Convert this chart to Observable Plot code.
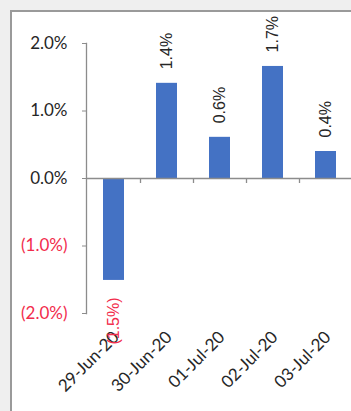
<!DOCTYPE html>
<html>
<head>
<meta charset="utf-8">
<script src="https://cdn.jsdelivr.net/npm/d3@7"></script>
<script src="https://cdn.jsdelivr.net/npm/@observablehq/plot@0.6"></script>
<style>
  html, body { margin: 0; padding: 0; width: 351px; height: 411px; overflow: hidden; background: #efefef; }
  #panel { position: absolute; left: 10px; top: 10px; width: 400px; height: 420px; background: #fff;
           border-left: 2px solid #9a9a9a; border-top: 2px solid #9a9a9a; box-sizing: border-box; }
  #chart { position: absolute; left: 0; top: 0; width: 362px; }
  #chart svg { background: transparent; max-width: none !important; }
</style>
</head>
<body>
<div id="panel"></div>
<div id="chart"></div>
<script>
const categories = ["29-Jun-20", "30-Jun-20", "01-Jul-20", "02-Jul-20", "03-Jul-20"];
const values = [-1.51, 1.41, 0.61, 1.66, 0.40];
const yTicksPos = [0, 1, 2];
const yTicksNeg = [-2, -1];

const data = categories.map((c, i) => ({cat: c, v: values[i]}));
const fmt = v => v < 0 ? `(${Math.abs(v).toFixed(1)}%)` : `${v.toFixed(1)}%`;

const RED = "#f22c4c";
const TXT = "#262626";
const AX = "#8c8c8c";

function build(step) {
  const marks = [
    Plot.barY(data, {x: "cat", y: "v", fill: "#4472c4"}),
    Plot.ruleY([0], {stroke: AX, strokeWidth: 1.3}),
    Plot.frame({anchor: "left", stroke: AX, strokeWidth: 1.3}),
    Plot.axisY(yTicksPos, {tickFormat: fmt, tickSize: 4, tickPadding: 15, stroke: AX, fill: TXT,
      fontSize: 17, fontFamily: "Lato", label: null}),
    Plot.axisY(yTicksNeg, {tickFormat: fmt, tickSize: 4, tickPadding: 15, stroke: AX, fill: RED,
      fontSize: 17, fontFamily: "Lato", label: null}),
    Plot.axisX(categories, {tickSize: 0, tickPadding: 21, tickRotate: -45, fill: TXT,
      fontSize: 17, fontFamily: "Lato", label: null, dx: 2}),
    Plot.text(data.filter(d => d.v >= 0), {x: "cat", y: "v", text: d => fmt(d.v), rotate: -90,
      textAnchor: "start", dy: -14, fill: TXT, fontSize: 16, fontFamily: "Liberation Sans"}),
    Plot.text(data.filter(d => d.v < 0), {x: "cat", y: "v", text: d => fmt(d.v), rotate: -90,
      textAnchor: "end", dy: 17, fill: RED, fontSize: 16, fontFamily: "Liberation Sans"})
  ];
  if (step) {
    marks.push(Plot.ruleX(categories.slice(1), {x: d => d, y1: 0, y2: 0, insetTop: 0, insetBottom: -5,
      dx: -step / 2, stroke: AX, strokeWidth: 1.3}));
  }
  return Plot.plot({
    width: 362,
    height: 411,
    marginTop: 43,
    marginBottom: 98,
    marginLeft: 86,
    marginRight: 9,
    style: {background: "transparent", maxWidth: "none"},
    x: {domain: categories, paddingInner: 0.61, paddingOuter: 0.305, axis: null},
    y: {domain: [-2, 2], axis: null},
    marks
  });
}

const first = build(0);
const step = first.scale("x").step;
document.getElementById("chart").append(build(step));
</script>
</body>
</html>
